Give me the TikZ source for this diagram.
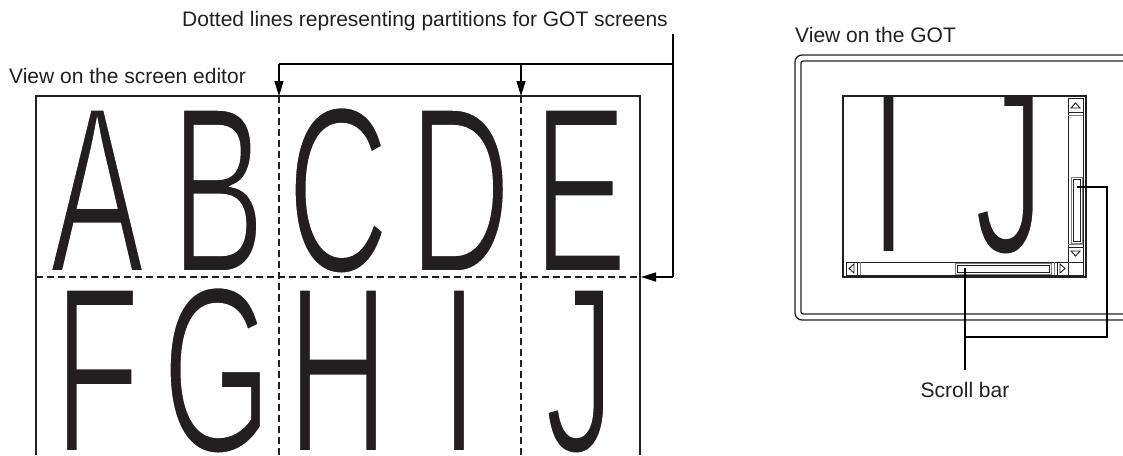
\documentclass[tikz,border=0pt]{standalone}
\usepackage{fontspec}
\setmainfont{Liberation Sans}
\newfontfamily\bigfont[FakeStretch=0.6, FakeBold=1.5]{Liberation Sans}
\usetikzlibrary{arrows.meta}
\definecolor{ink}{RGB}{35,31,32}
\newcommand{\thinglyph}[1]{\special{pdf:literal direct 1 1 1 RG}#1}
\begin{document}
\begin{tikzpicture}[x=1pt,y=-1pt,
  lbl/.style={font=\fontsize{21}{24}\selectfont, text=ink, inner sep=0pt},
  big/.style={font=\bigfont\fontsize{237}{237}\selectfont, text=ink, inner sep=0pt,
              text height=172pt, text depth=0pt, anchor=base},
  frame/.style={draw=ink, line width=1.3pt},
  part/.style={draw=ink, line width=1.4pt, dash pattern=on 7pt off 4pt},
  conn/.style={draw=black, line width=1.5pt},
  tip/.style={-{Triangle[length=15pt,width=9pt]}},
  fine/.style={draw=ink, line width=0.9pt},
]
\useasboundingbox (0,0) rectangle (1123,455);

% ---------- left: screen editor ----------
\node[big] (A) at (97,272) {\thinglyph{A}};
\node[big] (B) at (218,272) {\thinglyph{B}};
\node[big] (C) at (338,272) {\thinglyph{C}};
\node[big] (D) at (460,272) {\thinglyph{D}};
\node[big] (E) at (580,272) {\thinglyph{E}};
\node[big] (F) at (97,452) {\thinglyph{F}};
\node[big] (G) at (217,452) {\thinglyph{G}};
\node[big] (H) at (338,452) {\thinglyph{H}};
\node[big] (I) at (459,452) {\thinglyph{I}};
\node[big] (J) at (580,452) {\thinglyph{J}};

\draw[frame] (36,455) -- (36,96) -- (640,96) -- (640,455);
\draw[part] (36,277) -- (640,277);
\draw[part] (279,96) -- (279,455);
\draw[part] (521,96) -- (521,455);

\node[lbl, anchor=base west] (ved) at (9,83) {View on the screen editor};
\node[lbl, anchor=base east] (dot) at (668,27) {Dotted lines representing partitions for GOT screens};

\coordinate (vt) at (673,34);
\coordinate (vb) at (673,277);
\coordinate (hl) at (279,64);
\coordinate (hm) at (521,64);
\coordinate (hr) at (673,64);
\coordinate (t1) at (279,96);
\coordinate (t2) at (521,96);
\coordinate (t3) at (641,277);
\draw[conn] (vt) -- (vb);
\draw[conn] (hl) -- (hr);
\draw[conn,tip] (hl) -- (t1);
\draw[conn,tip] (hm) -- (t2);
\draw[conn,tip] (vb) -- (t3);

% ---------- right: GOT ----------
\node[lbl, anchor=base west] (vgot) at (795,42) {View on the GOT};
\draw[frame, rounded corners=7pt] (1123,55) -- (795,55) -- (795,320) -- (1123,320);
\draw[frame, rounded corners=2pt] (1123,61) -- (801,61) -- (801,314) -- (1123,314);

\begin{scope}
\clip (844,97) rectangle (1085,276);
\node[big] (gI) at (888.5,253) {\thinglyph{I}};
\node[big] (gJ) at (1009.5,253) {\thinglyph{J}};
\end{scope}

\draw[frame] (843,96) rectangle (1086,277);

% vertical scroll bar
\draw[fine] (1068,98) rectangle (1083,262);
\draw[fine] (1068,112) -- (1083,112);
\draw[fine, draw=gray] (1068,115) -- (1083,115);
\draw[fine] (1071,108) -- (1075.5,103) -- (1080,108) -- cycle;
\draw[fine, draw=gray] (1068,244) -- (1083,244);
\draw[fine] (1068,247) -- (1083,247);
\draw[fine] (1071,251) -- (1075.5,256) -- (1080,251) -- cycle;
\draw[fine, draw=gray] (1071,177) rectangle (1082,243);
\draw[fine] (1073,179) rectangle (1080,241);
\draw[fine] (1068,262) rectangle (1083,275);

% horizontal scroll bar
\draw[fine] (846,262) rectangle (1068,275);
\draw[fine] (857,262) -- (857,275);
\draw[fine, draw=gray] (860,262) -- (860,275);
\draw[fine] (854,264) -- (849,268.5) -- (854,273) -- cycle;
\draw[fine, draw=gray] (1054,262) -- (1054,275);
\draw[fine] (1057,262) -- (1057,275);
\draw[fine] (1060,264) -- (1065,268.5) -- (1060,273) -- cycle;
\draw[fine, draw=gray] (955,263) rectangle (1051,274);
\draw[fine] (957,265) rectangle (1049,272);

% leaders to label
\node[lbl, anchor=base] (sb) at (965,397) {Scroll bar};
\coordinate (ht) at (965,268);
\coordinate (hb) at (965,370);
\coordinate (hj) at (965,337);
\coordinate (rj) at (1107,337);
\coordinate (rt) at (1107,187);
\coordinate (vth) at (1077,187);
\draw[conn] (ht) -- (hb);
\draw[conn] (hj) -- (rj) -- (rt) -- (vth);
\end{tikzpicture}
\end{document}
